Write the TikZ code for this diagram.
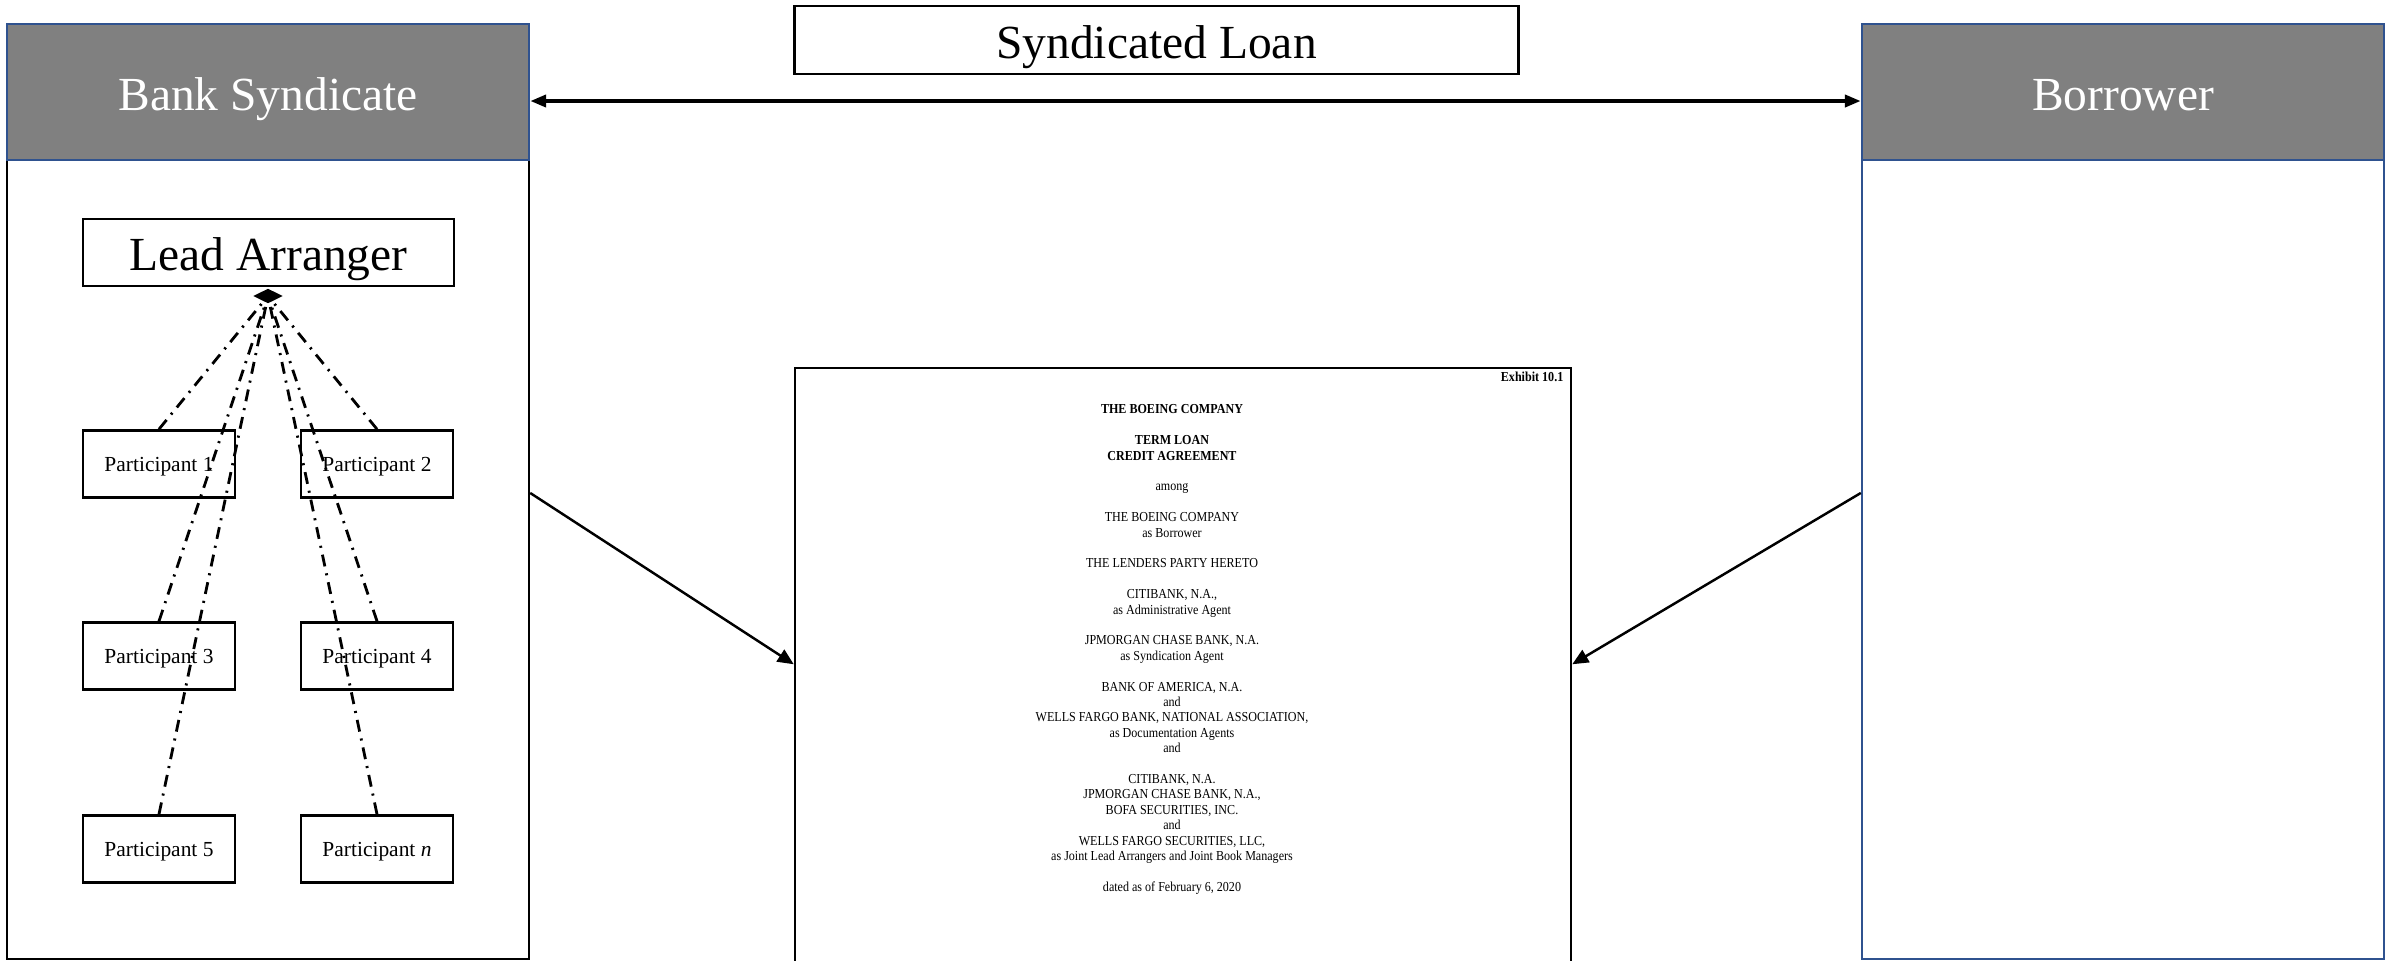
\documentclass[tikz,border=0pt]{standalone}
\usepackage{fontspec}
\setmainfont{Liberation Serif}
\newfontfamily\docfont{Liberation Serif}[FakeStretch=0.88]
\usetikzlibrary{arrows.meta}
\usetikzlibrary{shapes.geometric}
\definecolor{panelblue}{RGB}{47,82,143}
\definecolor{headgray}{RGB}{128,128,128}

\begin{document}
\begin{tikzpicture}[x=0.01cm, y=-0.01cm,
	bigtext/.style={font=\fontsize{13.5}{16}\selectfont, text height=10.3pt, text depth=0pt},
	head/.style={bigtext, draw=panelblue, line width=0.6pt, fill=headgray, text=white, minimum width=5.22cm, minimum height=1.36cm},
	body/.style={draw=#1, line width=0.6pt, minimum width=5.22cm, minimum height=7.99cm},
	partbox/.style={draw, line width=0.75pt, minimum width=1.52cm, minimum height=0.67cm, inner sep=0pt, text height=4.3pt, text depth=0pt, font=\fontsize{6.1}{7}\selectfont},
	link/.style={line width=0.8pt, dash pattern=on 3.4pt off 2pt on 0.6pt off 2pt},
	flow/.style={line width=0.7pt, -{Triangle[length=0.16cm, width=0.14cm]}}
]

	\useasboundingbox (0,0) rectangle (2397,960);
	\clip (0,0) rectangle (2397,960);

	% the two parties
	\node[body=black] (bankbody) at (268,559.5) {};
	\node[head] (bankhead) at (268,92) {Bank Syndicate};
	\node[body=panelblue] (borrowbody) at (2123,559.5) {};
	\node[head] (borrowhead) at (2123,92) {Borrower};

	% the loan between them
	\node[bigtext, draw, line width=0.75pt, minimum width=7.23cm, minimum height=0.68cm] (loan) at (1156.5,40) {Syndicated Loan};
	\draw[{Triangle[length=0.16cm, width=0.12cm]}-{Triangle[length=0.16cm, width=0.12cm]}, line width=1.1pt]
		([yshift=-0.09cm]bankhead.east) -- ([yshift=-0.09cm]borrowhead.west);

	% syndicate members
	\node[bigtext, draw, line width=0.75pt, minimum width=3.71cm, minimum height=0.67cm] (lead) at (268.5,252.5) {Lead Arranger};
	\coordinate (hub) at (268,296);
	\foreach \id/\px/\py/\txt in {1/159/464/1, 2/377/464/2, 3/159/656/3, 4/377/656/4, 5/159/849/5, n/377/849/\textit{n}} {
		\node[partbox] (part\id) at (\px,\py) {Participant \txt};
		\draw[link] (part\id.north) -- (hub);
	}
	\node[diamond, aspect=2, fill, inner sep=0pt, minimum width=0.3cm, minimum height=0.15cm] (hubmark) at (hub) {};

	% the agreement (cover page)
	\node[draw, line width=0.6pt, minimum width=7.76cm, minimum height=6.5cm, anchor=north] (doc) at (1183,367) {};
	\node[anchor=north east, inner sep=0pt, font=\docfont\bfseries\fontsize{3.9}{4.4}\selectfont] (exhibit) at (1564,371) {Exhibit 10.1};
	\node[anchor=north, align=center, inner sep=0pt, font=\docfont\fontsize{3.9}{4.38}\selectfont] (doctext) at (1172,404) {%
		\textbf{THE BOEING COMPANY}\\[4.38pt]
		\textbf{TERM LOAN}\\
		\textbf{CREDIT AGREEMENT}\\[4.38pt]
		among\\[4.38pt]
		THE BOEING COMPANY\\
		as Borrower\\[4.38pt]
		THE LENDERS PARTY HERETO\\[4.38pt]
		CITIBANK, N.A.,\\
		as Administrative Agent\\[4.38pt]
		JPMORGAN CHASE BANK, N.A.\\
		as Syndication Agent\\[4.38pt]
		BANK OF AMERICA, N.A.\\
		and\\
		WELLS FARGO BANK, NATIONAL ASSOCIATION,\\
		as Documentation Agents\\
		and\\[4.38pt]
		CITIBANK, N.A.\\
		JPMORGAN CHASE BANK, N.A.,\\
		BOFA SECURITIES, INC.\\
		and\\
		WELLS FARGO SECURITIES, LLC,\\
		as Joint Lead Arrangers and Joint Book Managers\\[4.38pt]
		dated as of February 6, 2020};

	% both parties sign it
	\draw[flow] ([yshift=0.665cm]bankbody.east) -- ([yshift=0.29cm]doc.west);
	\draw[flow] ([yshift=0.665cm]borrowbody.west) -- ([yshift=0.29cm]doc.east);

\end{tikzpicture}
\end{document}
